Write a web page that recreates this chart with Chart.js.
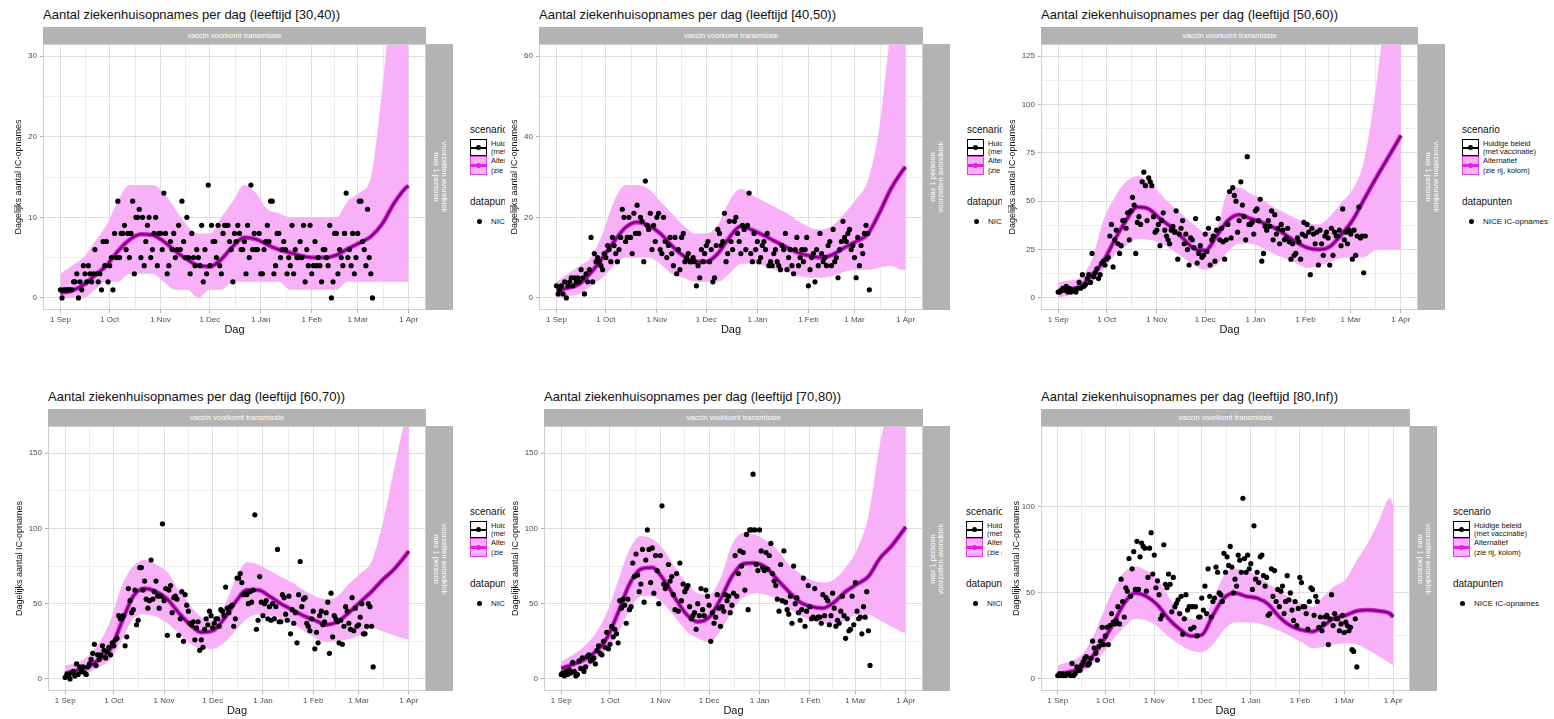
<!DOCTYPE html>
<html>
<head>
<meta charset="utf-8">
<script src="https://cdn.jsdelivr.net/npm/chart.js@4.4.1/dist/chart.umd.min.js"></script>
<style>
  body { margin: 0; width: 1554px; height: 719px; background: #fff; position: relative; overflow: hidden;
         font-family: "Liberation Sans", Arial, sans-serif; }
  .panel { position: absolute; overflow: hidden; background: #fff; }
  .panel > div, .panel > canvas { position: absolute; }
  .title { font-size: 13px; line-height: 16px; white-space: nowrap; color: #111; }
  .strip { background: #b3b3b3; color: #fff; font-size: 7.5px; text-align: center; white-space: nowrap; overflow: hidden; }
  .vtext { position: absolute; left: 50%; top: 50%; white-space: nowrap; color: #fff; font-size: 7.5px; line-height: 8px; text-align: center; }
  .lgt { font-size: 10px; line-height: 14px; white-space: nowrap; color: #111; }
  .lab { font-size: 7.5px; line-height: 9px; white-space: nowrap; color: #111; }
  .key { box-sizing: border-box; }
</style>
</head>
<body>
<script>
// maand-ticks (dagen sinds 1 sep)
const monthTicks = [0, 30, 61, 91, 122, 153, 181, 212];
const monthLabels = ['1 Sep', '1 Oct', '1 Nov', '1 Dec', '1 Jan', '1 Feb', '1 Mar', '1 Apr'];
const bandDays = [0, 7, 14, 21, 28, 35, 42, 49, 56, 63, 70, 77, 84, 91, 98, 105, 112, 119, 126, 133, 140, 147, 154, 161, 168, 175, 182, 189, 196, 203, 210, 212];

// [30,40)
const pts3040 = [1,0,1,1,1,1,1, 1,2,2,3,0,2,1, 4,3,2,4,3,2,3, 6,3,2,3,1,7,4, 7,2,4,5,1,8,5, 12,5,8,8,9,6,8,
  5,8,12,3,10,10,11, 5,10,4,7,9,10,5, 6,8,10,4,8,8,6, 13,8,3,4,7,6,8, 5,6,9,6,12,7,5, 10,5,3,8,5,4,6,
  5,4,9,2,6,3,14, 4,9,7,7,5,9,4, 3,8,9,9,9,7,6, 2,8,7,9,8,6,6, 7,3,9,5,14,6,8, 6,6,8,3,3,6,7,
  9,7,12,12,3,4,8, 8,5,6,7,6,3,5, 4,9,3,6,5,5,7, 5,9,2,6,4,9,3, 4,7,4,5,4,2,6, 6,5,4,9,0,2,8,
  8,3,6,5,4,8,13, 5,6,4,8,3,5,8, 12,12,7,6,4,11,5, 3,0];
const med3040 = [0.6,0.9,1.6,2.8,4.0,5.8,7.2,7.9,7.8,7.0,5.8,4.8,4.0,3.9,4.8,6.4,7.5,7.3,6.6,6.0,5.6,5.2,5.0,5.0,5.3,6.1,6.8,7.6,9.2,11.7,13.6,13.9];
const upr3040 = [3,4,5,7,9,12,14,14,14,13,11,9,8,8,10,12,14,13,11,10.5,10,10,10,10,10,12,13,15,26,40,50,52];
const lwr3040 = [0,0,0,1,2,2,3,3,3,2,1,1,0,1,1,2,2,2,2,2,1,1,1,1,1,2,2,2,2,2,2,2];
const yTicks3040 = [0, 10, 20, 30];

// [40,50)
const pts4050 = [3,1,2,3,1,4,0, 3,4,5,3,5,4,5, 4,7,5,1,6,4,7, 15,4,11,9,10,9,8, 7,11,10,13,12,9,15, 13,11,9,12,15,22,20,
  14,15,20,15,11,21,16, 23,16,20,19,9,29,18, 17,21,12,18,14,20,21, 12,11,20,14,10,13,15, 11,8,15,6,12,7,15,
  16,9,10,11,9,9,10, 9,3,8,5,12,9,11, 13,14,9,12,4,5,13, 17,16,13,14,21,9,11, 19,14,12,19,20,16,14,
  11,18,17,12,18,26,11, 9,16,12,14,9,10,13, 14,12,16,8,9,8,11, 12,9,8,7,13,12,16, 7,10,12,8,6,12,15,
  8,10,12,9,12,15,3, 7,10,11,4,12,8,16, 11,9,10,8,13,14,8, 17,9,10,5,12,14,19, 15,14,16,17,12,13,10,
  5,15,8,13,11,16,18, 16,2];
const med4050 = [2,2.5,3.5,6.3,10,14,17.5,18.8,18,16,13,10.5,9,9,11,15,17.8,16.8,15.5,14,12.5,11.2,10.4,10,10.8,12.5,14,15.8,21,27,31.5,32.5];
const upr4050 = [4,6,8,10,16,24,28,28,27,24,21,18,16,16,18,24,27,25.5,24,22.5,21,19,17.5,17,18,21,24.5,29,42,66,80,82];
const lwr4050 = [0,0.5,1,3,5,8,10,10,10,8.5,6,5,4,4,4,6,8.5,8.5,8,7,6.5,5.5,5,5,5.5,6.5,7,7,7.5,8,7,7];
const yTicks4050 = [0, 20, 40, 60];

// [50,60)
const pts5060 = [3,3,4,5,4,6,3, 5,3,4,4,3,5,8, 5,12,6,7,10,12,8, 23,11,13,15,10,12,18, 19,17,20,21,32,38,16,
  30,35,28,23,27,40,40, 36,44,30,45,52,48,23, 39,42,38,60,65,58,40, 62,60,58,42,34,35,38, 27,40,44,35,32,30,28,
  35,37,34,45,20,33,36, 40,28,33,25,17,31,30, 26,41,18,23,27,21,22, 33,24,36,17,30,32,19, 35,41,30,36,29,20,30,
  38,55,31,57,53,50,34, 40,60,48,42,30,73,38, 38,39,33,45,46,40,51, 19,23,37,35,40,37,45, 30,43,33,36,28,38,35,
  30,31,36,29,20,28,22, 23,31,29,20,33,39,32, 38,34,12,36,33,28,34, 17,35,28,22,32,34,31, 17,36,22,34,32,32,35,
  27,46,30,34,28,35,33, 20,35,22,32,47,31,32, 13,32];
const med5060 = [3.5,4.5,6,12,19,30,40,47,46,41,36.5,31,25.5,24.5,32,40,43,41,39,36.5,33,29,26,25,26.5,32.5,40,50.5,61,71,81,84];
const upr5060 = [8,9,11,20,40,52,60,63,60,54,48,43,38,34,36,55,57,54,51,47,44,41,39,38,42,49,56,70,105,150,170,175];
const lwr5060 = [0,1.5,4,8,15,22,27,30.5,30,28.5,25,21,17,14.5,17,24,28,28,26,23,20.5,18,15.5,16.5,18.5,20.5,20.7,21,24.5,25,25,25];
const yTicks5060 = [0, 25, 50, 75, 100, 125];

// [60,70)
const pts6070 = [1,3,2,0,4,5,2, 10,3,8,5,8,4,3, 8,10,13,17,23,9,16, 13,16,22,19,14,18,21, 16,24,22,26,27,42,40,
  40,42,22,28,60,52,44, 46,59,36,39,74,74,59, 65,53,47,52,79,53,58, 65,55,47,55,103,52,60, 29,59,62,44,54,55,53,
  29,40,58,25,56,49,45, 37,36,38,26,34,38,19, 26,21,33,40,36,45,42, 34,37,40,40,35,46,45, 42,61,47,44,48,49,35,
  40,67,67,70,64,56,57, 56,50,58,51,59,109,33, 39,68,51,42,50,52,40, 48,39,50,40,48,86,38, 38,56,54,43,39,55,30,
  46,37,44,24,56,78,48, 53,54,37,35,32,40,45, 20,31,24,42,45,36,38, 44,51,17,57,28,42,40, 38,24,39,23,35,48,45,
  37,33,54,32,47,35,36, 41,50,30,30,35,50,48, 35,8];
const med6070 = [3.8,5.5,8,13,20,38,55,60,58,53,44,36,31,32,40,51,59,59,55,50,46,42,39,36,38,44,51,58,66,73,82,85];
const upr6070 = [9,11,15,24,39,62,75,79,76,71,59,49,41,39,48,66,77.5,76,72,68,64,59,55,53,55,63,70,78,104,140,175,185];
const lwr6070 = [0.5,2,4,8,13,26,40,43,41.5,37,30.5,23.5,20,20,24,32,40,43,42,40,37,32,27.5,24.5,25,26.5,29,34,31.5,29,26.5,26];
const yTicks6070 = [0, 50, 100, 150];

// [70,80)
const pts7080 = [3,4,2,5,3,6,4, 11,5,2,3,12,7,14, 5,8,15,16,12,13,14, 10,19,22,17,16,25,21, 31,20,23,35,28,33,30,
  24,52,47,53,49,37,53, 46,48,77,68,83,69,58, 63,86,51,79,99,86,64, 87,57,82,72,50,82,115, 63,60,62,76,65,68,56,
  46,70,45,77,52,63,58, 60,62,48,40,42,44,33, 50,42,60,46,42,59,55, 49,25,44,37,41,56,47, 35,48,45,56,52,55,44,
  49,57,82,55,70,85,75, 84,59,96,46,99,99,136, 99,76,72,99,85,74,72, 84,73,82,90,70,65,62, 53,45,76,52,85,51,46,
  43,55,37,75,50,54,44, 39,46,67,35,45,62,48, 40,41,60,40,41,41,37, 56,42,54,52,36,42,57, 47,35,39,37,45,55,42,
  27,40,32,33,55,36,64, 45,40,41,30,48,41,58, 32,9];
const med7080 = [7,9.5,12.7,18,27,44,63,73,74,66,54,43,38,41,53,68,76.5,77,74,66,58,51,48,47,51,58,63,68,80,88,98,101];
const upr7080 = [11.5,16,21.5,30,44,65,86,95,93,86,74,64,57,56,67,89,97,96,92,86,76,70,65.5,64,66,74,86,108,155,190,210,215];
const lwr7080 = [2,4,6,12,20,30,46,55,55,50,41,32,27,24.5,32,45,54,57,56,52.7,47,42,39,37,36,39,42.7,42.7,39,35,31,30.5];
const yTicks7080 = [0, 50, 100, 150];

// [80,Inf)
const pts80 = [2,3,2,3,2,2,3, 3,2,9,2,3,7,5, 5,8,10,12,13,8,9, 12,22,18,15,11,19,22, 30,20,25,30,20,31,38,
  33,32,34,42,32,58,45, 36,53,51,70,48,64,74, 52,80,52,71,79,77,76, 51,59,76,85,61,72,53, 57,49,35,37,78,55,53,
  61,55,39,59,42,44,46, 38,48,26,35,49,40,42, 29,42,30,42,25,36,36, 47,40,54,38,64,48,36, 45,47,65,62,50,49,45,
  73,62,71,66,77,65,50, 58,54,72,69,62,105,70, 62,72,64,67,52,89,58, 62,56,71,72,60,54,59, 37,38,64,48,63,45,52,
  42,51,54,38,45,60,46, 50,40,34,45,31,41,59, 56,42,42,38,29,45,53, 52,37,48,45,30,36,28, 32,36,37,20,35,49,31,
  38,35,35,28,32,37,27, 33,31,28,30,17,16,35, 7];
const med80 = [3,4,6,12,21,32,44,50,48,43,35,29,25,25.6,37,47,50,48,47,43.5,36,31,28.5,27.5,31,35.5,37,39.5,40,39.5,38,36];
const upr80 = [8,10,13,22,37,52,62,65.3,63,58,48,39,35,34.3,46,60,64,62.5,60,55.5,51,47,44,42,48,54,58,69,79,92,105,101];
const lwr80 = [0.4,1.5,3.3,8,14.5,23,30,35,34,30.5,24.5,20,16.5,15.5,20,28.5,33,33,32.5,30.5,28,25,21.5,17.8,18.5,20,20.7,20,17,13,9,8];
const yTicks80 = [0, 50, 100];

const Y_AXIS_W = 52;
const X_AXIS_H = 30;
const PAD_T = 10;
const PAD_R = 10;
const STRIP = 17;

const panels = [
  { title: 'Aantal ziekenhuisopnames per dag (leeftijd [30,40))', pts: pts3040, med: med3040, upr: upr3040, lwr: lwr3040,
    ymax: 30, yTicks: yTicks3040, box: { x: 0, y: 0, w: 505, h: 350 }, plot: { x: 43, y: 44, w: 383, h: 266 }, ytDist: 24, legendX: 470, flip: false },
  { title: 'Aantal ziekenhuisopnames per dag (leeftijd [40,50))', pts: pts4050, med: med4050, upr: upr4050, lwr: lwr4050,
    ymax: 60, yTicks: yTicks4050, box: { x: 505, y: 0, w: 497, h: 350 }, plot: { x: 539, y: 44, w: 384, h: 266 }, ytDist: 24, legendX: 967, flip: true },
  { title: 'Aantal ziekenhuisopnames per dag (leeftijd [50,60))', pts: pts5060, med: med5060, upr: upr5060, lwr: lwr5060,
    ymax: 125, yTicks: yTicks5060, box: { x: 1002, y: 0, w: 552, h: 350 }, plot: { x: 1041, y: 44, w: 377, h: 266 }, ytDist: 28, legendX: 1462, flip: false },
  { title: 'Aantal ziekenhuisopnames per dag (leeftijd [60,70))', pts: pts6070, med: med6070, upr: upr6070, lwr: lwr6070,
    ymax: 160, yTicks: yTicks6070, box: { x: 0, y: 375, w: 505, h: 344 }, plot: { x: 48, y: 426, w: 378, h: 265 }, ytDist: 28, legendX: 470, flip: false },
  { title: 'Aantal ziekenhuisopnames per dag (leeftijd [70,80))', pts: pts7080, med: med7080, upr: upr7080, lwr: lwr7080,
    ymax: 160, yTicks: yTicks7080, box: { x: 505, y: 375, w: 497, h: 344 }, plot: { x: 544, y: 426, w: 379, h: 265 }, ytDist: 28, legendX: 966, flip: true },
  { title: 'Aantal ziekenhuisopnames per dag (leeftijd [80,Inf))', pts: pts80, med: med80, upr: upr80, lwr: lwr80,
    ymax: 140, yTicks: yTicks80, box: { x: 1002, y: 375, w: 552, h: 344 }, plot: { x: 1041, y: 426, w: 369, h: 265 }, ytDist: 24, legendX: 1453, flip: false }
];

Chart.defaults.font.family = '"Liberation Sans", Arial, sans-serif';
Chart.defaults.animation = false;

const panelBorder = {
  id: 'panelBorder',
  afterDatasetsDraw(chart) {
    const { ctx, chartArea: a } = chart;
    ctx.save();
    ctx.strokeStyle = '#cfcfcf';
    ctx.lineWidth = 1;
    ctx.strokeRect(a.left + 0.5, a.top + 0.5, a.width - 1, a.height - 1);
    ctx.restore();
  }
};

function el(parent, cls, css, text) {
  const d = document.createElement('div');
  if (cls) d.className = cls;
  d.style.cssText = css;
  if (text != null) d.textContent = text;
  parent.appendChild(d);
  return d;
}

function toXY(days, vals) {
  return vals.map((v, i) => ({ x: days[i], y: v }));
}

function midpoints(arr) {
  return arr.slice(1).map((v, i) => (v + arr[i]) / 2);
}

function renderPanel(p) {
  const box = el(document.body, 'panel', `left:${p.box.x}px;top:${p.box.y}px;width:${p.box.w}px;height:${p.box.h}px`);
  const L = p.plot.x - p.box.x, T = p.plot.y - p.box.y, W = p.plot.w, H = p.plot.h;

  el(box, 'title', `left:${L}px;top:${T - 37}px`, p.title);
  el(box, 'strip', `left:${L}px;top:${T - STRIP}px;width:${W}px;height:${STRIP}px;line-height:${STRIP}px`, 'vaccin voorkomt transmissie');
  const rs = el(box, 'strip', `left:${L + W}px;top:${T}px;width:27px;height:${H}px`);
  const vt = el(rs, 'vtext', `transform:translate(-50%,-50%) rotate(${p.flip ? -90 : 90}deg)`);
  vt.innerHTML = p.flip ? 'max 1 persoon<br>voorzetten avondklok' : 'voorzetten avondklok<br>max 1 persoon';

  // legenda
  const lx = p.legendX - p.box.x, ly = T + 86;
  el(box, 'lgt', `left:${lx}px;top:${ly - 7}px`, 'scenario');
  const k1 = el(box, 'key', `left:${lx}px;top:${ly + 9}px;width:17px;height:17px;border:1px solid #000;background:#fff`);
  el(k1, '', 'position:absolute;left:0;right:0;top:7px;height:1.5px;background:#000');
  el(k1, '', 'position:absolute;left:5px;top:5px;width:5px;height:5px;border-radius:50%;background:#000');
  const k2 = el(box, 'key', `left:${lx}px;top:${ly + 26}px;width:17px;height:19px;border:1px solid #e040e0;background:#f8b0f8`);
  el(k2, '', 'position:absolute;left:0;right:0;top:7px;height:3px;background:#e020e0');
  el(k2, '', 'position:absolute;left:5px;top:6px;width:5px;height:5px;border-radius:50%;background:#e020e0');
  el(box, 'lab', `left:${lx + 21}px;top:${ly + 9}px`, 'Huidige beleid');
  el(box, 'lab', `left:${lx + 21}px;top:${ly + 17}px`, ' (met vaccinatie)');
  el(box, 'lab', `left:${lx + 21}px;top:${ly + 26}px`, 'Alternatief');
  el(box, 'lab', `left:${lx + 21}px;top:${ly + 36}px`, ' (zie rij, kolom)');
  el(box, 'lgt', `left:${lx}px;top:${ly + 65}px`, 'datapunten');
  el(box, '', `left:${lx + 7}px;top:${ly + 89}px;width:5px;height:5px;border-radius:50%;background:#000`);
  el(box, 'lab', `left:${lx + 21}px;top:${ly + 87}px;font-size:8px`, 'NICE IC-opnames');

  // grafiek
  const canvas = document.createElement('canvas');
  const cw = Y_AXIS_W + W + PAD_R, ch = PAD_T + H + X_AXIS_H;
  canvas.width = cw;
  canvas.height = ch;
  canvas.style.cssText = `left:${L - Y_AXIS_W}px;top:${T - PAD_T}px;width:${cw}px;height:${ch}px`;
  box.appendChild(canvas);

  const yMinor = midpoints(p.yTicks);
  const yAll = p.yTicks.concat(yMinor).sort((a, b) => a - b);
  const xMinor = midpoints(monthTicks);
  const xAll = monthTicks.concat(xMinor).sort((a, b) => a - b);
  const yFont = 9, xFont = 11;

  new Chart(canvas.getContext('2d'), {
    type: 'line',
    data: {
      datasets: [
        { label: 'NICE IC-opnames', data: p.pts.map((v, i) => ({ x: i, y: v })), showLine: false,
          pointRadius: 2.6, pointBackgroundColor: '#000', pointBorderWidth: 0 },
        { label: 'Huidige beleid', data: toXY(bandDays, p.med), borderColor: '#6e006e', borderWidth: 1.8,
          pointRadius: 0, cubicInterpolationMode: 'monotone', fill: false },
        { label: 'Alternatief', data: toXY(bandDays, p.med), borderColor: '#d21ed2', borderWidth: 4.5,
          pointRadius: 0, cubicInterpolationMode: 'monotone', fill: false },
        { label: 'bovengrens', data: toXY(bandDays, p.upr), borderColor: 'rgba(0,0,0,0)', borderWidth: 0,
          pointRadius: 0, cubicInterpolationMode: 'monotone', fill: '+1', backgroundColor: '#f8b0f8' },
        { label: 'ondergrens', data: toXY(bandDays, p.lwr), borderColor: 'rgba(0,0,0,0)', borderWidth: 0,
          pointRadius: 0, cubicInterpolationMode: 'monotone', fill: false }
      ]
    },
    options: {
      responsive: false,
      animation: false,
      layout: { padding: { top: PAD_T, right: PAD_R, left: 0, bottom: 0 } },
      plugins: { legend: { display: false }, tooltip: { enabled: false } },
      scales: {
        x: {
          type: 'linear', min: -10.6, max: 222.6,
          afterBuildTicks: s => { s.ticks = xAll.map(v => ({ value: v })); },
          afterFit: s => { s.height = X_AXIS_H; },
          ticks: {
            autoSkip: false, maxRotation: 0, minRotation: 0, padding: 1.5, color: '#4d4d4d', font: { size: 8 },
            callback: v => { const i = monthTicks.indexOf(v); return i >= 0 ? monthLabels[i] : ''; }
          },
          grid: {
            color: c => monthTicks.includes(c.tick.value) ? '#dedede' : '#ededed',
            lineWidth: 1, tickLength: 3,
            tickColor: c => monthTicks.includes(c.tick.value) ? '#b3b3b3' : 'rgba(0,0,0,0)'
          },
          border: { display: false },
          title: { display: true, text: 'Dag', color: '#111', font: { size: xFont },
                   padding: { top: 0, bottom: X_AXIS_H - 20 - xFont * 0.6 } }
        },
        y: {
          type: 'linear', min: -0.05 * p.ymax, max: 1.05 * p.ymax,
          afterBuildTicks: s => { s.ticks = yAll.map(v => ({ value: v })); },
          afterFit: s => { s.width = Y_AXIS_W; },
          ticks: {
            padding: 3, color: '#4d4d4d', font: { size: 8 },
            callback: v => p.yTicks.includes(v) ? String(v) : ''
          },
          grid: {
            color: c => p.yTicks.includes(c.tick.value) ? '#dedede' : '#ededed',
            lineWidth: 1, tickLength: 3,
            tickColor: c => p.yTicks.includes(c.tick.value) ? '#b3b3b3' : 'rgba(0,0,0,0)'
          },
          border: { display: false },
          title: { display: true, text: 'Dagelijks aantal IC-opnames', color: '#111', font: { size: yFont },
                   padding: { top: Y_AXIS_W - p.ytDist - yFont * 0.6, bottom: 0 } }
        }
      }
    },
    plugins: [panelBorder]
  });
}

panels.forEach(renderPanel);
</script>
</body>
</html>
